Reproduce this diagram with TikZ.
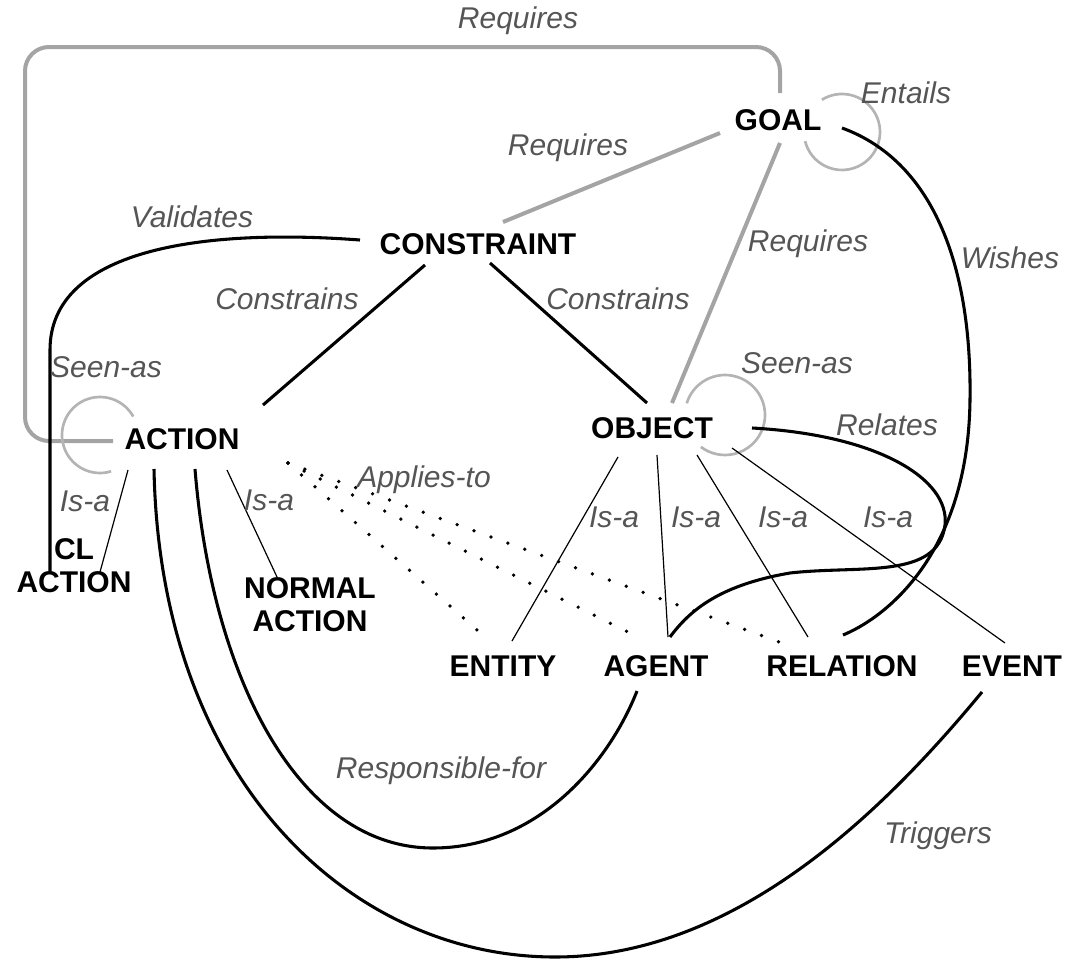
\documentclass[tikz,border=0pt]{standalone}
\usepackage{fontspec}
\setmainfont{Liberation Sans}
\usetikzlibrary{calc}
\definecolor{lblgray}{HTML}{555555}
\definecolor{softgray}{HTML}{A4A4A4}
\definecolor{ringgray}{HTML}{B4B4B4}
\begin{document}
\begin{tikzpicture}[x=0.75pt,y=-0.75pt,
  concept/.style={font=\fontsize{22.5}{24.75}\selectfont\bfseries, inner sep=0pt, align=center},
  rel/.style={font=\fontsize{22.5}{25}\selectfont\itshape, text=lblgray, anchor=base, inner sep=0pt},
  strong/.style={line width=2.3pt, black},
  soft/.style={line width=3pt, softgray},
  ring/.style={line width=2pt, ringgray},
  isa/.style={line width=0.9pt, black},
  applies/.style={line width=2.8pt, line cap=round, dash pattern=on 0pt off 13.5pt},
]
\useasboundingbox (0,0) rectangle (1068,960);

% concepts
\node[concept] (goal)       at (778,120) {GOAL};
\node[concept] (constraint) at (478,244) {CONSTRAINT};
\node[concept] (action)     at (182,439) {ACTION};
\node[concept] (object)     at (652,428) {OBJECT};
\node[concept] (clact)      at (74,566)  {CL\\ACTION};
\node[concept] (normact)    at (310,605) {NORMAL\\ACTION};
\node[concept] (entity)     at (503,666) {ENTITY};
\node[concept] (agent)      at (656,666) {AGENT};
\node[concept] (relation)   at (842,666) {RELATION};
\node[concept] (event)      at (1012,666) {EVENT};

% grey relations
\draw[soft, rounded corners=18pt] ($(action)+(-69,2)$) -| (25,47) -| ($(goal)+(2,-27)$);
\draw[soft] ($(goal)+(-58,13)$) -- ($(constraint)+(25,-22)$);
\draw[soft] ($(goal)+(2,23)$) -- ($(object)+(20,-25)$);

% self loops
\draw[ring] ($(goal)+(64,12)+(238:38)$) arc[start angle=238, end angle=526, radius=38];
\draw[ring] ($(object)+(73,-13)+(197:40)$) arc[start angle=197, end angle=487, radius=40];
\draw[ring] ($(action)+(-82,-4)+(73:38)$) arc[start angle=73, end angle=331, radius=38];

% black relations
\draw[strong] ($(constraint)+(-53,21)$) -- ($(action)+(81,-34)$);
\draw[strong] ($(constraint)+(12,19)$) -- ($(object)+(-5,-25)$);
\draw[strong] ($(constraint)+(-118,-4)$) .. controls (200,228) and (50,250) .. (50,350) -- ($(clact)+(-24,6)$);
\draw[strong] ($(goal)+(64,8)$) .. controls (930,160) and (972,260) .. (970,400)
  .. controls (968,560) and (880,620) .. ($(relation)+(1,-31)$);
\draw[strong] ($(object)+(100,0)$) .. controls (880,435) and (950,480) .. (945,525)
  .. controls (938,580) and (860,565) .. (790,573)
  .. controls (720,585) and (690,610) .. ($(agent)+(14,-29)$);
\draw[strong] ($(action)+(13,30)$) .. controls (212,680) and (300,848) .. (433,848)
  .. controls (540,848) and (610,760) .. ($(agent)+(-19,25)$);
\draw[strong] ($(action)+(-28,30)$) .. controls (160,780) and (350,957) .. (555,957)
  .. controls (735,957) and (882,813) .. ($(event)+(-30,26)$);

% is-a links
\draw[isa] ($(action)+(-54,31)$) -- ($(clact)+(26,6)$);
\draw[isa] ($(action)+(45,31)$) -- ($(normact)+(-33,-28)$);
\draw[isa] ($(object)+(-34,29)$) -- ($(entity)+(9,-25)$);
\draw[isa] ($(object)+(5,27)$) -- ($(agent)+(12,-29)$);
\draw[isa] ($(object)+(45,27)$) -- ($(relation)+(-34,-29)$);
\draw[isa] ($(object)+(80,20)$) -- ($(event)+(-7,-23)$);

% applies-to
\draw[applies] ($(action)+(106,24)$) -- ($(entity)+(-18,-29)$);
\draw[applies] ($(action)+(106,24)$) -- ($(agent)+(-16,-28)$);
\draw[applies] ($(action)+(106,24)$) -- ($(relation)+(-60,-23)$);

% labels
\node[rel] at (518,28)  {Requires};
\node[rel] at (568,155) {Requires};
\node[rel] at (808,251) {Requires};
\node[rel] at (906,103) {Entails};
\node[rel] at (192,227) {Validates};
\node[rel] at (287,309) {Constrains};
\node[rel] at (618,309) {Constrains};
\node[rel] at (1010,268) {Wishes};
\node[rel] at (106,377) {Seen-as};
\node[rel] at (797,373) {Seen-as};
\node[rel] at (887,435) {Relates};
\node[rel] at (85,511)  {Is-a};
\node[rel] at (269,510) {Is-a};
\node[rel] at (614,527) {Is-a};
\node[rel] at (696,527) {Is-a};
\node[rel] at (783,527) {Is-a};
\node[rel] at (888,527) {Is-a};
\node[rel] at (424,487) {Applies-to};
\node[rel] at (441,778) {Responsible-for};
\node[rel] at (938,843) {Triggers};
\end{tikzpicture}
\end{document}
